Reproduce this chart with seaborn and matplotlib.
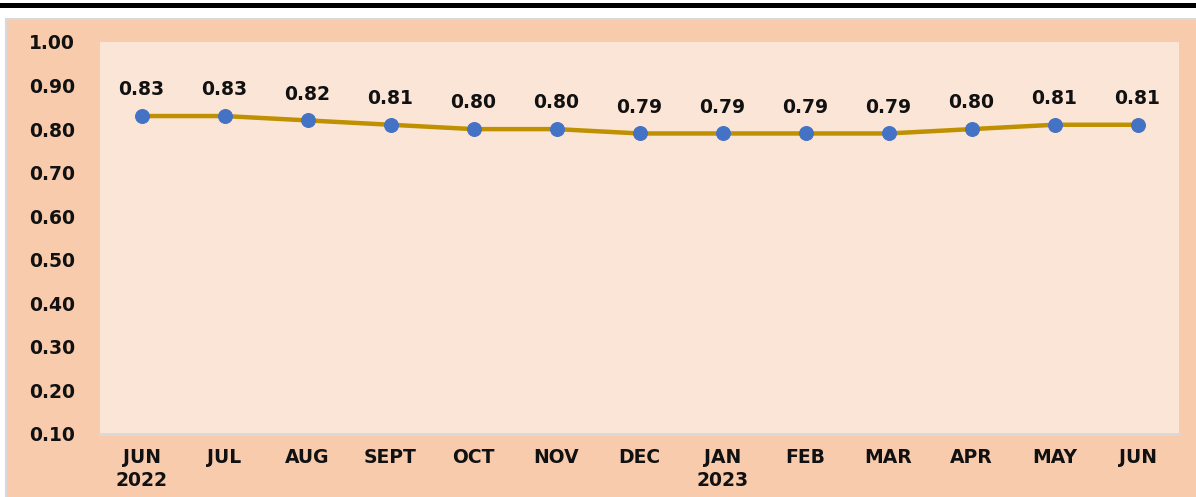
import matplotlib
matplotlib.use("Agg")
import matplotlib.pyplot as plt
import seaborn as sns
import pandas as pd
from matplotlib.patches import Rectangle

# data
months = ["JUN\n2022", "JUL", "AUG", "SEPT", "OCT", "NOV", "DEC",
          "JAN\n2023", "FEB", "MAR", "APR", "MAY", "JUN"]
values = [0.83, 0.83, 0.82, 0.81, 0.80, 0.80, 0.79, 0.79, 0.79, 0.79, 0.80, 0.81, 0.81]
yticks = [0.10, 0.20, 0.30, 0.40, 0.50, 0.60, 0.70, 0.80, 0.90, 1.00]

df = pd.DataFrame({"pos": range(len(months)), "month": months, "value": values})

sns.set_theme(style="white")
plt.rcParams['font.family'] = ['DejaVu Sans']

outer_bg = "#F8CBAD"
inner_bg = "#FBE5D6"
line_col = "#BF9000"
dot_col = "#4472C4"
txt_col = "#111111"
fs = 13.5

fig = plt.figure(figsize=(11.96, 4.97), dpi=100)
fig.patch.set_facecolor("white")

# peach panel + black rule at top
fig.add_artist(Rectangle((6 / 1196, -0.05), 1.1, 1.05 - 18.5 / 497, transform=fig.transFigure,
                         facecolor=outer_bg, edgecolor="#D9D9D9", lw=1.5, zorder=0))
fig.add_artist(Rectangle((0, 1 - 7.5 / 497), 1.0, 4.5 / 497, transform=fig.transFigure,
                         facecolor="black", edgecolor="none", zorder=1))

ax = fig.add_axes([100 / 1196, 1 - 434 / 497, 1079 / 1196, (434 - 42) / 497])
ax.set_facecolor(inner_bg)

sns.lineplot(data=df, x="pos", y="value", ax=ax, color=line_col, lw=3.2,
             marker="o", markersize=10, markerfacecolor=dot_col,
             markeredgecolor=dot_col, zorder=3)

for i, v in enumerate(values):
    ax.annotate(f"{v:.2f}", (i, v), xytext=(0, 19), textcoords="offset points",
                ha="center", va="center", fontsize=fs, fontweight="bold", color=txt_col)

ax.set_xlim(-0.5, len(months) - 0.5)
ax.set_ylim(0.10, 1.00)
ax.set_xticks(range(len(months)))
ax.set_xticklabels(months, fontsize=fs, fontweight="bold", color=txt_col, linespacing=1.25)
ax.set_yticks(yticks)
ax.set_yticklabels([f"{t:.2f}" for t in yticks], fontsize=fs, fontweight="bold", color=txt_col)
ax.tick_params(axis="x", length=0, pad=10)
ax.tick_params(axis="y", length=0, pad=18)
ax.set_xlabel("")
ax.set_ylabel("")

for side in ["top", "right", "left"]:
    ax.spines[side].set_visible(False)
ax.spines["bottom"].set_color("#D9D9D9")
ax.spines["bottom"].set_linewidth(2)

fig.savefig("out.png", dpi=100, facecolor=fig.get_facecolor())
